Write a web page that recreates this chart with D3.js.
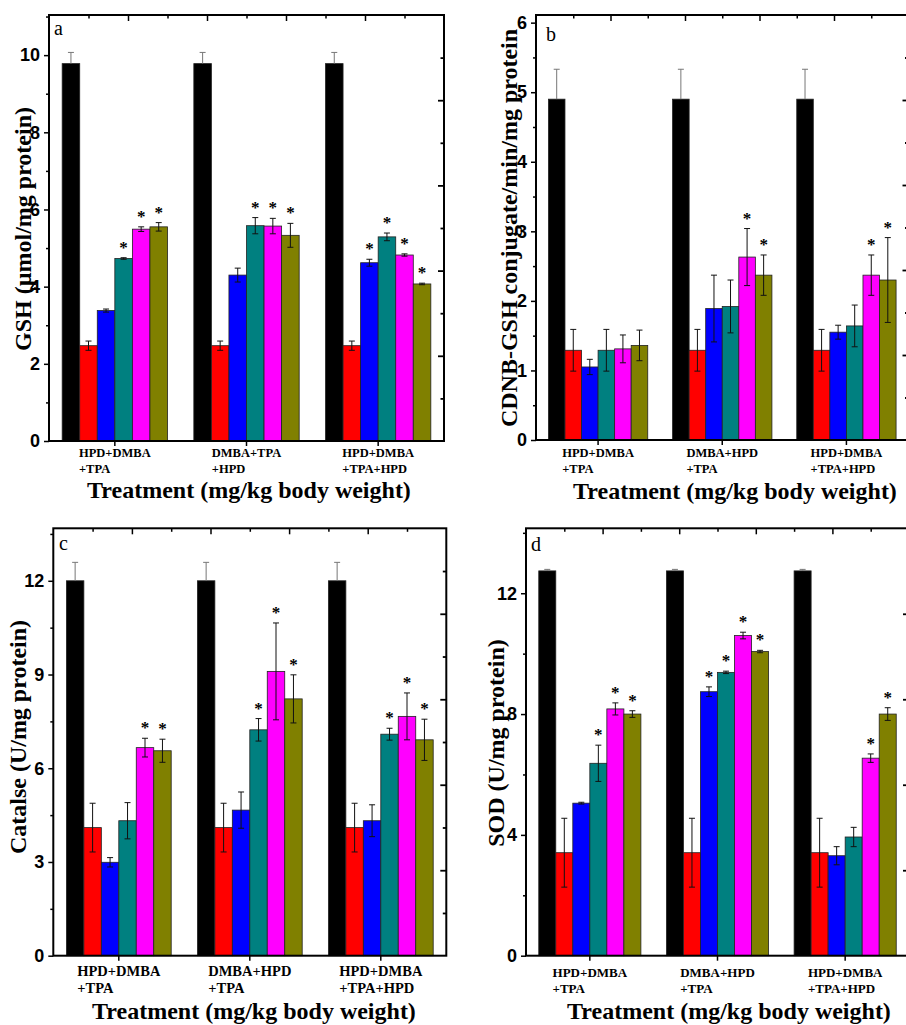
<!DOCTYPE html>
<html>
<head>
<meta charset="utf-8">
<script src="https://cdn.jsdelivr.net/npm/d3@7"></script>
<style>
body { margin: 0; background: #fff; }
svg { display: block; font-family: "Liberation Serif", "Times New Roman", serif; }
</style>
</head>
<body>
<script>
// ---- data ----
const series = ["s1", "s2", "s3", "s4", "s5", "s6"]
const colors = ["#000000", "#ff0000", "#0000ff", "#008080", "#ff00ff", "#808000"]

const groupsA = [["HPD+DMBA", "+TPA"], ["DMBA+TPA", "+HPD"], ["HPD+DMBA", "+TPA+HPD"]]
const groupsBCD = [["HPD+DMBA", "+TPA"], ["DMBA+HPD", "+TPA"], ["HPD+DMBA", "+TPA+HPD"]]

// a: GSH
const gshMean = [[9.78, 2.47, 3.38, 4.73, 5.49, 5.55], [9.78, 2.47, 4.30, 5.58, 5.57, 5.33], [9.78, 2.47, 4.62, 5.29, 4.82, 4.07]]
const gshErr = [[0.29, 0.12, 0.04, 0.02, 0.06, 0.11], [0.29, 0.12, 0.18, 0.21, 0.20, 0.31], [0.29, 0.12, 0.09, 0.10, 0.03, 0.02]]
const gshSig = [[0, 0, 0, 1, 1, 1], [0, 0, 0, 1, 1, 1], [0, 0, 1, 1, 1, 1]]
const gshTicks = [0, 2, 4, 6, 8, 10]
const gshMinor = [1, 3, 5, 7, 9, 11]

// b: CDNB-GSH conjugate
const gstMean = [[4.90, 1.29, 1.05, 1.29, 1.31, 1.36], [4.90, 1.29, 1.89, 1.92, 2.63, 2.37], [4.90, 1.29, 1.55, 1.64, 2.37, 2.30]]
const gstErr = [[0.43, 0.30, 0.11, 0.30, 0.20, 0.22], [0.43, 0.30, 0.48, 0.38, 0.41, 0.29], [0.43, 0.30, 0.10, 0.30, 0.29, 0.61]]
const gstSig = [[0, 0, 0, 0, 0, 0], [0, 0, 0, 0, 1, 1], [0, 0, 0, 0, 1, 1]]
const gstTicks = [0, 1, 2, 3, 4, 5, 6]
const gstMinor = [0.5, 1.5, 2.5, 3.5, 4.5, 5.5]

// c: Catalase
const catMean = [[12.0, 4.10, 2.99, 4.32, 6.66, 6.56], [12.0, 4.10, 4.66, 7.23, 9.10, 8.22], [12.0, 4.10, 4.32, 7.09, 7.66, 6.91]]
const catErr = [[0.59, 0.78, 0.15, 0.58, 0.30, 0.37], [0.59, 0.78, 0.58, 0.36, 1.55, 0.77], [0.59, 0.78, 0.51, 0.19, 0.75, 0.66]]
const catSig = [[0, 0, 0, 0, 1, 1], [0, 0, 0, 1, 1, 1], [0, 0, 0, 1, 1, 1]]
const catTicks = [0, 3, 6, 9, 12]
const catMinor = [1.5, 4.5, 7.5, 10.5, 13.5]

// d: SOD
const sodMean = [[12.74, 3.41, 5.05, 6.37, 8.17, 8.00], [12.74, 3.41, 8.74, 9.38, 10.60, 10.07], [12.74, 3.41, 3.31, 3.93, 6.54, 8.00]]
const sodErr = [[0.05, 1.14, 0.03, 0.60, 0.20, 0.11], [0.05, 1.14, 0.16, 0.04, 0.11, 0.04], [0.05, 1.14, 0.30, 0.32, 0.14, 0.21]]
const sodSig = [[0, 0, 0, 1, 1, 1], [0, 0, 1, 1, 1, 1], [0, 0, 0, 0, 1, 1]]
const sodTicks = [0, 4, 8, 12]
const sodMinor = [2, 6, 10, 14]

const xTitle = "Treatment (mg/kg body weight)"

// ---- layout ----
const panels = [
    { letter: "a", title: "GSH (\u00b5mol/mg protein)", groups: groupsA, mean: gshMean, err: gshErr, sig: gshSig,
      ticks: gshTicks, minor: gshMinor, yMax: 11.04, l: 49, r: 444, t: 15, b: 441,
      titleX: 31, titleY: 229, xTitleX: 249, xTitleY: 498, labY: 457, labGap: 15.5, labSize: 12.5, rightStep: 1,
      letterX: 54, letterY: 35 },
    { letter: "b", title: "CDNB-GSH conjugate/min/mg protein", groups: groupsBCD, mean: gstMean, err: gstErr, sig: gstSig,
      ticks: gstTicks, minor: gstMinor, yMax: 6.11, l: 536, r: 908.5, t: 15, b: 440,
      titleX: 517, titleY: 228, xTitleX: 735, xTitleY: 499, labY: 457, labGap: 15.5, labSize: 12.5, rightStep: 1,
      letterX: 546, letterY: 41 },
    { letter: "c", title: "Catalse (U/mg protein)", groups: groupsBCD, mean: catMean, err: catErr, sig: catSig,
      ticks: catTicks, minor: catMinor, yMax: 13.68, l: 53.3, r: 446.3, t: 528.3, b: 955.7,
      titleX: 26, titleY: 737, xTitleX: 254, xTitleY: 1019, labY: 976, labGap: 16.5, labSize: 14.5, rightStep: 1,
      letterX: 59, letterY: 550 },
    { letter: "d", title: "SOD (U/mg protein)", groups: groupsBCD, mean: sodMean, err: sodErr, sig: sodSig,
      ticks: sodTicks, minor: sodMinor, yMax: 14.15, l: 526, r: 909, t: 528.3, b: 955.7,
      titleX: 504, titleY: 743, xTitleX: 729, xTitleY: 1019, labY: 977, labGap: 16, labSize: 13, rightStep: 2,
      letterX: 531, letterY: 551 }
]

const width = 906
const height = 1025

const svg = d3.select("body")
    .append("svg")
    .attr("width", width)
    .attr("height", height)

svg.append("rect").attr("width", width).attr("height", height).attr("fill", "#fff")

function drawPanel(p) {
    const g = svg.append("g")

    const x0 = d3.scaleBand()
        .domain(d3.range(p.groups.length))
        .range([p.l, p.r])
        .paddingInner(0.2)
        .paddingOuter(0.1)

    const x1 = d3.scaleBand()
        .domain(series)
        .range([0, x0.bandwidth()])

    const y = d3.scaleLinear()
        .domain([0, p.yMax])
        .range([p.b, p.t])

    const rows = []
    p.mean.forEach((vals, gi) => {
        vals.forEach((v, si) => {
            rows.push({ gi: gi, si: si, v: v, e: p.err[gi][si], s: p.sig[gi][si] })
        })
    })
    const cx = d => x0(d.gi) + x1(series[d.si]) + x1.bandwidth() / 2

    // bars
    g.selectAll("rect.bar")
        .data(rows)
        .join("rect")
        .attr("class", "bar")
        .attr("x", d => x0(d.gi) + x1(series[d.si]))
        .attr("y", d => y(d.v))
        .attr("width", x1.bandwidth())
        .attr("height", d => y(0) - y(d.v))
        .attr("fill", d => colors[d.si])
        .attr("stroke", "#222")
        .attr("stroke-width", 0.8)

    // error bars (control bars: only the upper half shows)
    const eb = g.selectAll("g.err")
        .data(rows)
        .join("g")
        .attr("class", "err")
        .attr("stroke", d => d.si == 0 ? "#777" : "#111")
        .attr("stroke-width", 1)

    eb.append("line")
        .attr("x1", cx).attr("x2", cx)
        .attr("y1", d => d.si == 0 ? y(d.v) : y(d.v - d.e))
        .attr("y2", d => y(d.v + d.e))
    eb.append("line")
        .attr("x1", d => cx(d) - 3).attr("x2", d => cx(d) + 3)
        .attr("y1", d => y(d.v + d.e)).attr("y2", d => y(d.v + d.e))
    eb.filter(d => d.si != 0).append("line")
        .attr("x1", d => cx(d) - 3).attr("x2", d => cx(d) + 3)
        .attr("y1", d => y(d.v - d.e)).attr("y2", d => y(d.v - d.e))

    // significance stars
    g.selectAll("text.star")
        .data(rows.filter(d => d.s))
        .join("text")
        .attr("class", "star")
        .attr("x", cx)
        .attr("y", d => y(d.v + d.e) - 5)
        .attr("text-anchor", "middle")
        .attr("font-size", 17)
        .attr("font-weight", "bold")
        .text("*")

    // left axis
    const ejeY = d3.axisLeft(y).tickValues(p.ticks).tickSize(5).tickPadding(4).tickFormat(d3.format("d"))
    const gy = g.append("g")
        .attr("transform", "translate(" + p.l + ",0)")
        .call(ejeY)
    gy.select(".domain").remove()
    gy.selectAll("line").attr("stroke-width", 1.5)
    gy.selectAll("text").attr("font-size", 18).attr("font-weight", "bold").attr("fill", "#000")

    const gym = g.append("g")
        .attr("transform", "translate(" + p.l + ",0)")
        .call(d3.axisLeft(y).tickValues(p.minor.filter(v => v < p.yMax)).tickSize(3).tickFormat(""))
    gym.select(".domain").remove()
    gym.selectAll("line").attr("stroke-width", 1.5)

    // bottom ticks at group centres
    const gx = g.append("g")
        .attr("transform", "translate(0," + p.b + ")")
        .call(d3.axisBottom(x0).tickSize(5).tickFormat(""))
    gx.select(".domain").remove()
    gx.selectAll("line").attr("stroke-width", 1.5)

    // top ticks (inside)
    const top = d3.scaleLinear().domain([0, 10]).range([p.l, p.r])
    const gt = g.append("g")
        .attr("transform", "translate(0," + p.t + ")")
        .call(d3.axisBottom(top).tickValues([2, 4, 6, 8]).tickSize(6).tickFormat(""))
    gt.select(".domain").remove()
    gt.selectAll("line").attr("stroke-width", 1.5)
    const gtm = g.append("g")
        .attr("transform", "translate(0," + p.t + ")")
        .call(d3.axisBottom(top).tickValues([1, 3, 5, 7, 9]).tickSize(3.5).tickFormat(""))
    gtm.select(".domain").remove()
    gtm.selectAll("line").attr("stroke-width", 1.5)

    // right ticks (inside)
    const right = d3.scaleLinear().domain([0, 10]).range([p.b, p.t])
    const rTicks = d3.range(p.rightStep, 10, p.rightStep)
    const gr = g.append("g")
        .attr("transform", "translate(" + p.r + ",0)")
        .call(d3.axisLeft(right).tickValues(rTicks).tickSize(0).tickFormat(""))
    gr.select(".domain").remove()
    gr.selectAll(".tick line")
        .attr("x2", d => (p.rightStep == 1 && d % 2 == 1) ? -3.5 : -6)
        .attr("stroke-width", 1.8)

    // frame
    g.append("rect")
        .attr("x", p.l).attr("y", p.t)
        .attr("width", p.r - p.l).attr("height", p.b - p.t)
        .attr("fill", "none")
        .attr("stroke", "#000")
        .attr("stroke-width", 2)

    // group labels (two lines, left aligned, first line centred on group)
    p.groups.forEach((lines, gi) => {
        const t = g.append("text")
            .attr("font-size", p.labSize)
            .attr("font-weight", "bold")
        const first = t.append("tspan").attr("y", p.labY).text(lines[0])
        const w = first.node().getComputedTextLength()
        const xs = x0(gi) + x0.bandwidth() / 2 - w / 2
        first.attr("x", xs)
        t.append("tspan").attr("x", xs).attr("y", p.labY + p.labGap).text(lines[1])
    })

    // axis titles
    g.append("text")
        .attr("x", p.xTitleX).attr("y", p.xTitleY)
        .attr("text-anchor", "middle")
        .attr("font-size", 24)
        .attr("font-weight", "bold")
        .text(xTitle)

    g.append("text")
        .attr("transform", "translate(" + p.titleX + "," + p.titleY + ") rotate(-90)")
        .attr("text-anchor", "middle")
        .attr("font-size", 24)
        .attr("font-weight", "bold")
        .text(p.title)

    // panel letter
    g.append("text")
        .attr("x", p.letterX).attr("y", p.letterY)
        .attr("font-size", 20)
        .text(p.letter)
}

panels.forEach(drawPanel)
</script>
</body>
</html>
